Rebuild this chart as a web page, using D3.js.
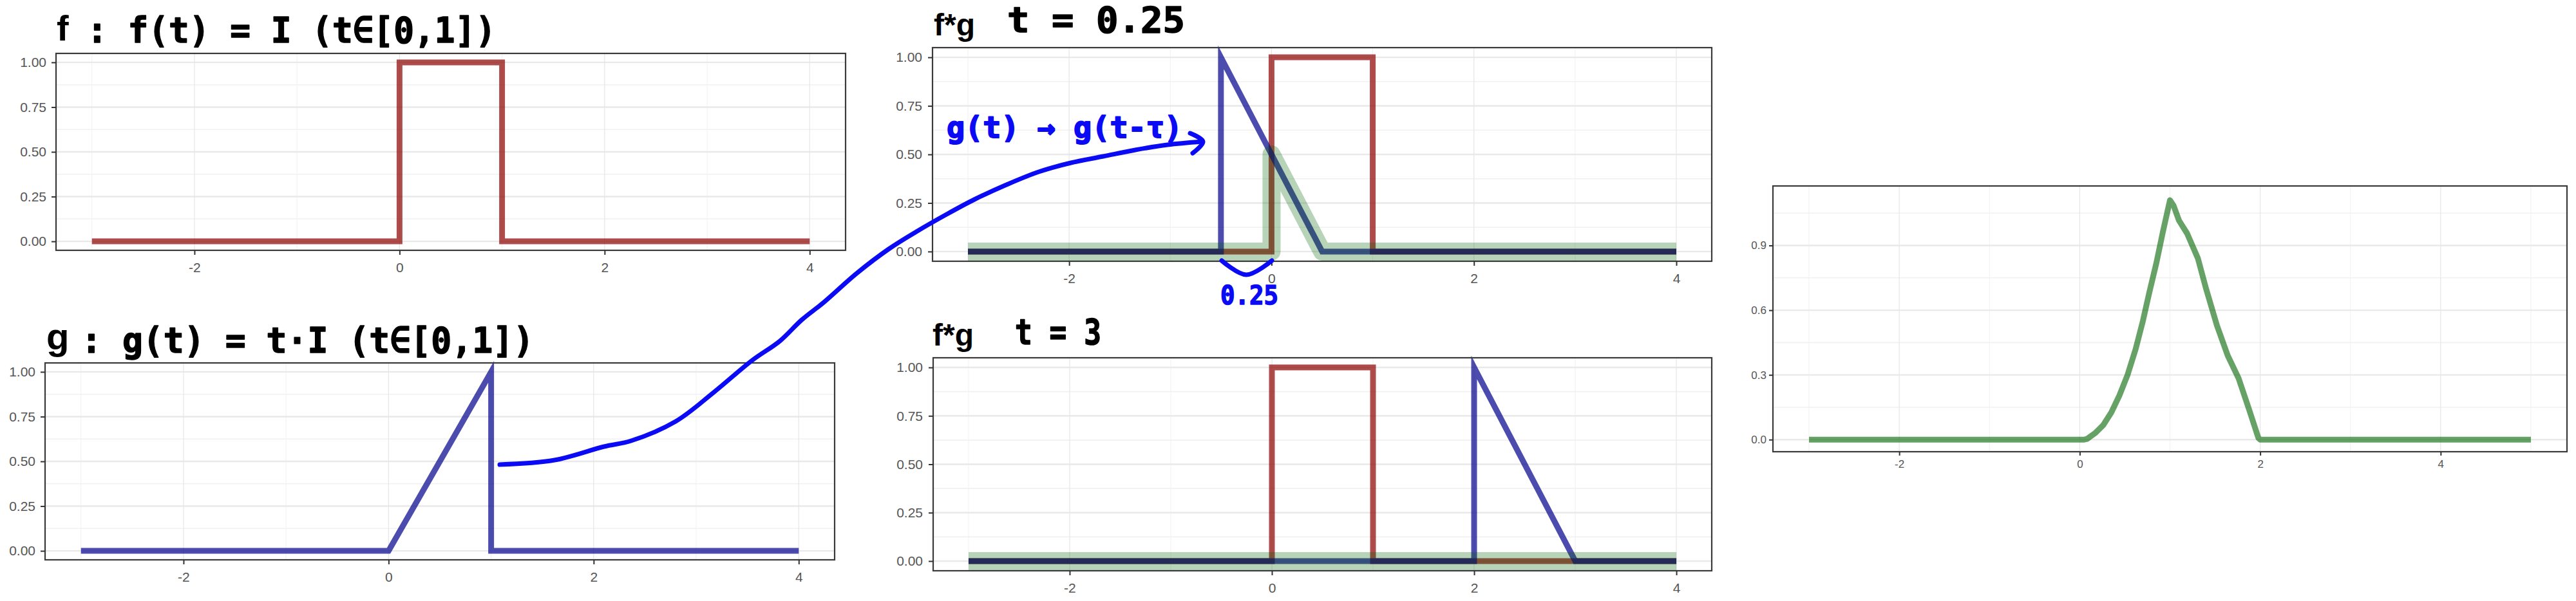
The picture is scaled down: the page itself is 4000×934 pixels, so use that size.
<!DOCTYPE html>
<html>
<head>
<meta charset="utf-8">
<script src="https://cdn.jsdelivr.net/npm/d3@7"></script>
<style>
  html, body { margin: 0; padding: 0; background: #ffffff; }
  svg { display: block; }
</style>
</head>
<body>
<svg id="chart" width="4000" height="934"></svg>
<script>
// ---------------- data ----------------
// f(t) = I(t in [0,1])
const fT = [-3, 0, 0, 1, 1, 4];
const fV = [0, 0, 1, 1, 0, 0];
// g(t) = t * I(t in [0,1])
const gT = [-3, 0, 1, 1, 4];
const gV = [0, 0, 1, 0, 0];
// f*g panel, t = 0.25 : flipped / shifted g and product
const shiftA_T = [-3, -0.5, -0.5, 0.5, 4];
const shiftA_V = [0, 0, 1, 0, 0];
const prodA_T = [-3, 0, 0, 0.5, 4];
const prodA_V = [0, 0, 0.5, 0, 0];
// f*g panel, t = 3
const shiftB_T = [-3, 2, 2, 3, 4];
const shiftB_V = [0, 0, 1, 0, 0];
const prodB_T = [-3, 4];
const prodB_V = [0, 0];
// resulting convolution curve
const convT = [-3, 0.05, 0.08, 0.17, 0.26, 0.35, 0.44, 0.53, 0.62, 0.70, 0.77, 0.85, 0.92, 1.00,
               1.04, 1.10, 1.19, 1.31, 1.40, 1.52, 1.64, 1.76, 1.88, 1.98, 2.0, 5];
const convV = [0, 0, 0.003, 0.03, 0.067, 0.126, 0.205, 0.30, 0.42, 0.55, 0.68, 0.82, 0.96, 1.11,
               1.085, 1.016, 0.956, 0.84, 0.70, 0.53, 0.39, 0.285, 0.136, 0.008, 0, 0];
// tick labels
const xTicks = [-2, 0, 2, 4];
const yTicksUnit = [0, 0.25, 0.5, 0.75, 1];
const yTicksConv = [0, 0.3, 0.6, 0.9];

// ---------------- styles ----------------
const RED = "rgba(139,0,0,0.7)";
const BLUE = "rgba(0,0,139,0.7)";
const GREEN_BAND = "rgba(0,100,0,0.28)";
const GREEN_LINE = "rgba(0,100,0,0.6)";
const HAND_BLUE = "#0a0af5";

const svg = d3.select("#chart");
svg.append("rect").attr("width", 4000).attr("height", 934).attr("fill", "#ffffff");

function minorOf(ticks, domain) {
  const step = ticks[1] - ticks[0];
  const out = [];
  for (let v = ticks[0] - step / 2; v <= domain[1]; v += step) {
    if (v >= domain[0]) out.push(v);
  }
  return out;
}

function makePanel(cfg) {
  const x = d3.scaleLinear().domain(cfg.xDomain).range([cfg.left, cfg.right]);
  const y = d3.scaleLinear().domain(cfg.yDomain).range([cfg.bottom, cfg.top]);
  const g = svg.append("g");

  g.append("rect")
    .attr("x", cfg.left).attr("y", cfg.top)
    .attr("width", cfg.right - cfg.left).attr("height", cfg.bottom - cfg.top)
    .attr("fill", "#ffffff");

  const grid = g.append("g");
  grid.selectAll(".ymin").data(minorOf(cfg.yTicks, cfg.yDomain)).join("line")
    .attr("x1", cfg.left).attr("x2", cfg.right)
    .attr("y1", d => y(d)).attr("y2", d => y(d))
    .attr("stroke", "#f1f1f1").attr("stroke-width", 1.6);
  grid.selectAll(".xmin").data(minorOf(cfg.xTicks, cfg.xDomain)).join("line")
    .attr("y1", cfg.top).attr("y2", cfg.bottom)
    .attr("x1", d => x(d)).attr("x2", d => x(d))
    .attr("stroke", "#f1f1f1").attr("stroke-width", 1);
  grid.selectAll(".ymaj").data(cfg.yTicks).join("line")
    .attr("x1", cfg.left).attr("x2", cfg.right)
    .attr("y1", d => y(d)).attr("y2", d => y(d))
    .attr("stroke", "#e9e9e9").attr("stroke-width", 2.4);
  grid.selectAll(".xmaj").data(cfg.xTicks).join("line")
    .attr("y1", cfg.top).attr("y2", cfg.bottom)
    .attr("x1", d => x(d)).attr("x2", d => x(d))
    .attr("stroke", "#e6e6e6").attr("stroke-width", 1.2);

  const line = d3.line().x(d => x(d[0])).y(d => y(d[1]));
  cfg.series.forEach(s => {
    g.append("path")
      .datum(d3.zip(s.t, s.v))
      .attr("d", line)
      .attr("fill", "none")
      .attr("stroke", s.color)
      .attr("stroke-width", s.width)
      .attr("stroke-linejoin", s.join || "miter")
      .attr("stroke-miterlimit", 10)
      .attr("stroke-linecap", "butt");
  });

  g.append("rect")
    .attr("x", cfg.left).attr("y", cfg.top)
    .attr("width", cfg.right - cfg.left).attr("height", cfg.bottom - cfg.top)
    .attr("fill", "none").attr("stroke", "#3a3a3a").attr("stroke-width", 2.2);

  const ax = g.append("g").attr("transform", `translate(0,${cfg.bottom})`)
    .call(d3.axisBottom(x).tickValues(cfg.xTicks).tickSize(cfg.tick).tickPadding(cfg.xPad)
      .tickFormat(d => d < 0 ? "-" + Math.abs(d) : String(d)));
  const ay = g.append("g").attr("transform", `translate(${cfg.left},0)`)
    .call(d3.axisLeft(y).tickValues(cfg.yTicks).tickSize(cfg.tick).tickPadding(cfg.yPad)
      .tickFormat(d3.format(cfg.yFormat)));
  [ax, ay].forEach(a => {
    a.select(".domain").remove();
    a.selectAll(".tick line").attr("stroke", "#333333").attr("stroke-width", 2);
    a.selectAll(".tick text")
      .attr("fill", "#555555")
      .style("font-family", "'Liberation Sans', Arial, sans-serif")
      .style("font-size", cfg.font + "px");
  });
  return { x, y };
}

const unitY = [-0.05, 1.05];
const unitX = [-3.35, 4.35];

makePanel({
  left: 87, right: 1313, top: 83, bottom: 389,
  xDomain: unitX, yDomain: unitY, xTicks, yTicks: yTicksUnit, yFormat: ".2f",
  tick: 7, xPad: 12, yPad: 8, font: 21,
  series: [{ t: fT, v: fV, color: RED, width: 9 }]
});
makePanel({
  left: 70, right: 1296, top: 564, bottom: 870,
  xDomain: unitX, yDomain: unitY, xTicks, yTicks: yTicksUnit, yFormat: ".2f",
  tick: 7, xPad: 12, yPad: 8, font: 21,
  series: [{ t: gT, v: gV, color: BLUE, width: 9 }]
});
makePanel({
  left: 1448, right: 2658, top: 74, bottom: 406,
  xDomain: unitX, yDomain: unitY, xTicks, yTicks: yTicksUnit, yFormat: ".2f",
  tick: 7, xPad: 12, yPad: 9, font: 21,
  series: [
    { t: fT, v: fV, color: RED, width: 9 },
    { t: shiftA_T, v: shiftA_V, color: BLUE, width: 9 },
    { t: prodA_T, v: prodA_V, color: GREEN_BAND, width: 28, join: "round" }
  ]
});
makePanel({
  left: 1449, right: 2658, top: 556, bottom: 887,
  xDomain: unitX, yDomain: unitY, xTicks, yTicks: yTicksUnit, yFormat: ".2f",
  tick: 7, xPad: 12, yPad: 9, font: 21,
  series: [
    { t: fT, v: fV, color: RED, width: 9 },
    { t: shiftB_T, v: shiftB_V, color: BLUE, width: 9 },
    { t: prodB_T, v: prodB_V, color: GREEN_BAND, width: 28, join: "round" }
  ]
});
makePanel({
  left: 2753, right: 3986, top: 289, bottom: 702,
  xDomain: [-3.4, 5.4], yDomain: [-0.056, 1.176], xTicks, yTicks: yTicksConv, yFormat: ".1f",
  tick: 6, xPad: 7, yPad: 4, font: 17,
  series: [{ t: convT, v: convV, color: GREEN_LINE, width: 9, join: "round" }]
});

// ---------------- titles ----------------
const BOLD = "'Liberation Sans', Arial, sans-serif";
const HAND = "'DejaVu Sans Mono', monospace";
function label(txt, x, y, size, family, opts = {}) {
  const t = svg.append("text")
    .attr("x", x).attr("y", y)
    .style("font-family", family)
    .style("font-size", size + "px")
    .style("font-weight", "bold")
    .attr("fill", opts.color || "#000000")
    .text(txt);
  if (opts.len) t.attr("textLength", opts.len).attr("lengthAdjust", "spacingAndGlyphs");
  if (opts.stroke) t.attr("stroke", opts.color || "#000000").attr("stroke-width", opts.stroke)
    .attr("stroke-linejoin", "round");
  return t;
}
label("f", 88, 63, 56, BOLD);
label(": f(t) = I (t∈[0,1])", 135, 66, 55, HAND, { len: 635, stroke: 1.5 });
label("g", 72, 543, 58, BOLD);
label(": g(t) = t·I (t∈[0,1])", 126, 548, 55, HAND, { len: 703, stroke: 1.5 });
label("f*g", 1450, 55, 48, BOLD);
label("t = 0.25", 1564, 50, 55, HAND, { len: 276, stroke: 1.5 });
label("f*g", 1448, 537, 48, BOLD);
label("t = 3", 1576, 535, 55, HAND, { len: 134, stroke: 1.5 });

// ---------------- hand-drawn annotations ----------------
const arrowPts = [[776, 722], [861, 715], [938, 694], [980, 685], [1049, 655], [1108, 610],
  [1168, 560], [1211, 530], [1245, 497], [1279, 470], [1330, 425], [1380, 387], [1423, 360],
  [1470, 333], [1513, 310], [1563, 287], [1613, 267], [1663, 253], [1713, 243], [1763, 233],
  [1813, 225], [1867, 220]];
const headPts = [[1848, 207], [1868, 220], [1852, 238]];
const bracketPts = [[1897, 405], [1935, 427], [1975, 405]];

svg.append("path").datum(arrowPts)
  .attr("d", d3.line().curve(d3.curveCatmullRom.alpha(0.5)))
  .attr("fill", "none").attr("stroke", HAND_BLUE).attr("stroke-width", 7)
  .attr("stroke-linecap", "round").attr("stroke-linejoin", "round");
svg.append("path").datum(headPts)
  .attr("d", d3.line().curve(d3.curveCatmullRom))
  .attr("fill", "none").attr("stroke", HAND_BLUE).attr("stroke-width", 7)
  .attr("stroke-linecap", "round").attr("stroke-linejoin", "round");
svg.append("path").datum(bracketPts)
  .attr("d", d3.line().curve(d3.curveCatmullRom))
  .attr("fill", "none").attr("stroke", HAND_BLUE).attr("stroke-width", 7)
  .attr("stroke-linecap", "round");

label("g(t) → g(t-τ)", 1470, 214, 46, HAND, { len: 366, stroke: 2, color: HAND_BLUE });
label("0.25", 1895, 473, 40, HAND, { len: 90, stroke: 1.5, color: HAND_BLUE });
</script>
</body>
</html>
